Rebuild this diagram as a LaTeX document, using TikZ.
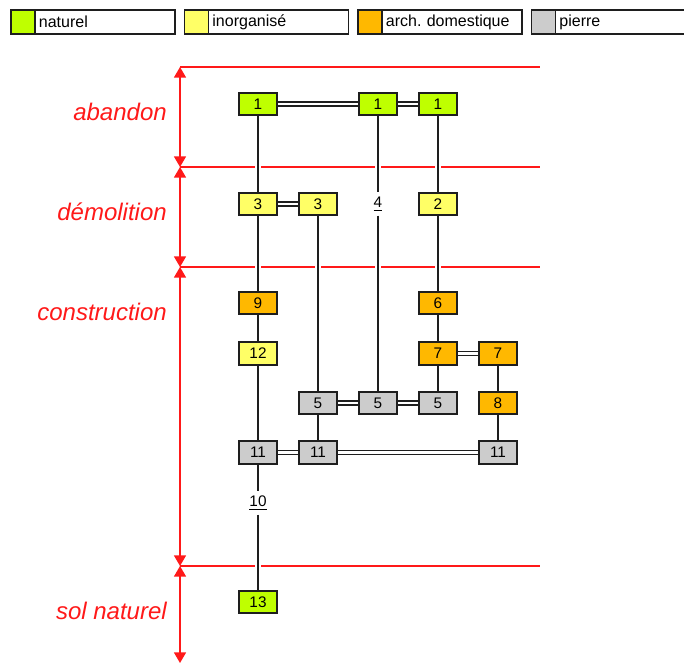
\documentclass[tikz,border=0pt]{standalone}
\usepackage{fontspec}
\setmainfont{Liberation Sans}
\usetikzlibrary{arrows.meta,backgrounds}
\definecolor{cnat}{RGB}{191,255,0}
\definecolor{cinorg}{RGB}{255,255,102}
\definecolor{carch}{RGB}{255,184,0}
\definecolor{cpier}{RGB}{204,204,204}
\definecolor{cred}{RGB}{255,25,25}
\definecolor{cdark}{RGB}{30,30,30}
\begin{document}
\begin{tikzpicture}[x=0.75pt,y=-0.75pt,
  box/.style={draw=cdark,line width=1.5pt,minimum width=28.5pt,minimum height=17pt,inner sep=0pt,font=\fontsize{11.5}{13}\selectfont},
  nat/.style={box,fill=cnat},
  inorg/.style={box,fill=cinorg},
  arch/.style={box,fill=carch},
  pier/.style={box,fill=cpier},
  ulbl/.style={inner sep=0pt,minimum height=17pt,minimum width=8pt,font=\fontsize{11.5}{13}\selectfont},
  link/.style={draw=cdark,line width=1.5pt,preaction={draw=white,line width=4.5pt}},
  dbl/.style={draw=cdark,double=white,line width=1.1pt,double distance=1.6pt},
  redl/.style={draw=cred,line width=1.2pt},
  redarr/.style={redl,{Triangle[width=9pt,length=8pt]}-{Triangle[width=9pt,length=8pt]}},
  phase/.style={anchor=base east,inner sep=0pt,text=cred,font=\fontsize{18}{20}\selectfont\itshape},
  legc/.style={draw=cdark,line width=1.4pt,anchor=north west,minimum width=18pt,minimum height=18pt,inner sep=0pt},
  legt/.style={draw=cdark,line width=1.4pt,fill=white,anchor=north west,minimum height=18pt,inner xsep=3pt,inner ysep=0pt,align=left,font=\fontsize{12}{14}\selectfont\frenchspacing}
]
\useasboundingbox (0,0) rectangle (684,664);

% legend
\node[legc,fill=cnat] (lc1) at (10,9) {};
\node[legt,text width=99pt] (lt1) at (34,9) {naturel};
\node[legc,fill=cinorg] (lc2) at (183.5,9) {};
\node[legt,text width=99pt] (lt2) at (207.5,9) {inorganisé};
\node[legc,fill=carch] (lc3) at (357,9) {};
\node[legt,text width=99pt] (lt3) at (381,9) {arch. domestique};
\node[legc,fill=cpier] (lc4) at (530.5,9) {};
\node[legt,text width=105pt] (lt4) at (554.5,9) {pierre};

% phase labels
\node[phase] (ph1) at (167,120) {abandon};
\node[phase] (ph2) at (167,220) {démolition};
\node[phase] (ph3) at (167,320) {construction};
\node[phase] (ph4) at (167,619) {sol naturel};

% nodes
\node[nat] (a1) at (258,104) {1};
\node[nat] (c1) at (378,104) {1};
\node[nat] (d1) at (438,104) {1};
\node[inorg] (a3) at (258,204) {3};
\node[inorg] (b3) at (318,204) {3};
\node[ulbl] (c4) at (378,204) {\underline{4}};
\node[inorg] (d2) at (438,204) {2};
\node[arch] (a9) at (258,303) {9};
\node[arch] (d6) at (438,303) {6};
\node[inorg] (a12) at (258,353.5) {12};
\node[arch] (d7) at (438,353.5) {7};
\node[arch] (e7) at (498,353.5) {7};
\node[pier] (b5) at (318,403) {5};
\node[pier] (c5) at (378,403) {5};
\node[pier] (d5) at (438,403) {5};
\node[arch] (e8) at (498,403) {8};
\node[pier] (a11) at (258,452.5) {11};
\node[pier] (b11) at (318,452.5) {11};
\node[pier] (e11) at (498,452.5) {11};
\node[ulbl] (a10) at (258,503) {\underline{10}};
\node[nat] (a13) at (258,602) {13};

% phase scale
\coordinate (r0) at (180,67);
\coordinate (r1) at (180,167);
\coordinate (r2) at (180,267);
\coordinate (r3) at (180,566);
\coordinate (r4) at (180,663);
\coordinate (h0) at (540,67);
\coordinate (h1) at (540,167);
\coordinate (h2) at (540,267);
\coordinate (h3) at (540,566);

\begin{scope}[on background layer]
  \draw[redl] (r0) -- (h0);
  \draw[redl] (r1) -- (h1);
  \draw[redl] (r2) -- (h2);
  \draw[redl] (r3) -- (h3);
  \draw[redarr] (r0) -- (r1);
  \draw[redarr] (r1) -- (r2);
  \draw[redarr] (r2) -- (r3);
  \draw[redarr] (r3) -- (r4);
  % vertical links
  \draw[link] (a1) -- (a3);
  \draw[link] (a3) -- (a9);
  \draw[link] (a9) -- (a12);
  \draw[link] (a12) -- (a11);
  \draw[link] (a11) -- (a10);
  \draw[link] (a10) -- (a13);
  \draw[link] (b3) -- (b5);
  \draw[link] (b5) -- (b11);
  \draw[link] (c1) -- (c4);
  \draw[link] (c4) -- (c5);
  \draw[link] (d1) -- (d2);
  \draw[link] (d2) -- (d6);
  \draw[link] (d6) -- (d7);
  \draw[link] (d7) -- (d5);
  \draw[link] (e7) -- (e8);
  \draw[link] (e8) -- (e11);
  % double links
  \draw[dbl] (a1) -- (c1);
  \draw[dbl] (c1) -- (d1);
  \draw[dbl] (a3) -- (b3);
  \draw[dbl] (d7) -- (e7);
  \draw[dbl] (b5) -- (c5);
  \draw[dbl] (c5) -- (d5);
  \draw[dbl] (a11) -- (b11);
  \draw[dbl] (b11) -- (e11);
\end{scope}
\end{tikzpicture}
\end{document}
